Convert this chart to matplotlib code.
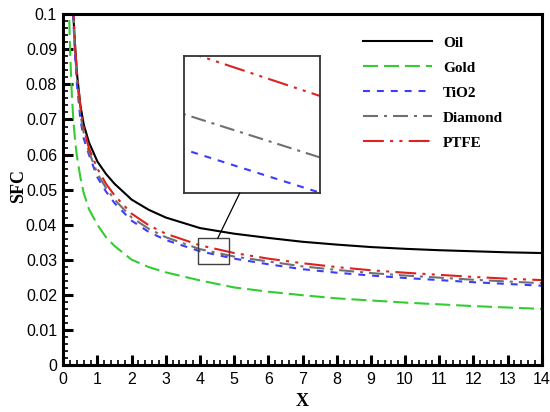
import matplotlib
matplotlib.use("Agg")
import matplotlib.pyplot as plt
from matplotlib.patches import Rectangle, ConnectionPatch
from matplotlib.ticker import MultipleLocator

plt.rcParams['lines.scale_dashes'] = False

# ---------------- data ----------------
x = [0.15, 0.2, 0.25, 0.3, 0.35, 0.4, 0.5, 0.6, 0.75, 1.0, 1.25, 1.5, 2.0, 2.5,
     3.0, 4.0, 5.0, 6.0, 7.0, 8.0, 9.0, 10.0, 11.0, 12.0, 13.0, 14.0]
oil = [0.160, 0.130, 0.110, 0.0985, 0.090, 0.083, 0.0740, 0.0685, 0.0635, 0.0580,
       0.0545, 0.0517, 0.0472, 0.0443, 0.0421, 0.0391, 0.0375, 0.0363, 0.0352,
       0.0344, 0.0337, 0.0332, 0.0328, 0.0325, 0.0322, 0.0320]
gold = [0.108, 0.089, 0.077, 0.069, 0.0635, 0.0595, 0.0535, 0.049, 0.0445, 0.0400,
        0.0365, 0.0340, 0.0301, 0.0280, 0.0265, 0.0242, 0.0222, 0.0210, 0.0200,
        0.0191, 0.0185, 0.0179, 0.0174, 0.0169, 0.0165, 0.0161]
tio2 = [0.170, 0.138, 0.112, 0.097, 0.087, 0.080, 0.070, 0.0645, 0.060, 0.0535,
        0.0495, 0.0462, 0.0412, 0.0380, 0.0357, 0.0325, 0.0304, 0.0288, 0.0274,
        0.0264, 0.0256, 0.0249, 0.0243, 0.0237, 0.0232, 0.0227]
diamond = [0.172, 0.140, 0.114, 0.0985, 0.0885, 0.0815, 0.0715, 0.066, 0.0608,
           0.0546, 0.0505, 0.0472, 0.0421, 0.0389, 0.0365, 0.0331, 0.0310, 0.0296,
           0.0282, 0.0272, 0.0263, 0.0256, 0.0250, 0.0244, 0.0239, 0.0234]
ptfe = [0.175, 0.142, 0.116, 0.100, 0.090, 0.0835, 0.0735, 0.0675, 0.0618, 0.0560,
        0.0517, 0.0484, 0.0432, 0.0399, 0.0375, 0.0342, 0.0320, 0.0304, 0.0291,
        0.0280, 0.0271, 0.0264, 0.0258, 0.0252, 0.0247, 0.0243]

series_names = ["Oil", "Gold", "TiO2", "Diamond", "PTFE"]
series_values = [oil, gold, tio2, diamond, ptfe]

x_ticks = list(range(0, 15))
x_tick_labels = [str(v) for v in x_ticks]
y_ticks = [0, 0.01, 0.02, 0.03, 0.04, 0.05, 0.06, 0.07, 0.08, 0.09, 0.1]
y_tick_labels = ["0", "0.01", "0.02", "0.03", "0.04", "0.05", "0.06", "0.07",
                 "0.08", "0.09", "0.1"]

# ---------------- styles ----------------
styles = [
    dict(color="black", linestyle="-"),
    dict(color="#33cc33", linestyle=(0, (10.8, 4.3))),
    dict(color="#3c3cff", linestyle=(0, (5.0, 5.0))),
    dict(color="#707070", linestyle=(0, (10.8, 4.3, 2.2, 4.3))),
    dict(color="#dd2222", linestyle=(0, (15.0, 4.5, 2.2, 4.5, 2.2, 4.5))),
]
LW = 1.5

fig = plt.figure(figsize=(5.5, 4.12), dpi=100)
ax = fig.add_axes([0.1151, 0.1129, 0.8698, 0.853])

for name, vals, st in zip(series_names, series_values, styles):
    ax.plot(x, vals, lw=LW, label=name, **st)

ax.set_xlim(0, 14)
ax.set_ylim(0, 0.1)
ax.set_xticks(x_ticks)
ax.set_xticklabels(x_tick_labels)
ax.set_yticks(y_ticks)
ax.set_yticklabels(y_tick_labels)
ax.xaxis.set_minor_locator(MultipleLocator(0.2))
ax.yaxis.set_minor_locator(MultipleLocator(0.002))
ax.tick_params(which="major", direction="in", length=7, width=2.2,
               top=False, right=False, labelsize=11.5, pad=4.5)
ax.tick_params(which="minor", direction="in", length=3.8, width=1.2,
               top=False, right=False)
for lab in ax.get_xticklabels() + ax.get_yticklabels():
    lab.set_fontfamily("Liberation Sans")
for s in ax.spines.values():
    s.set_linewidth(2.2)

fig.text(19 / 550, 1 - 186 / 412, "SFC", rotation=90, ha="center", va="center",
         fontsize=13, fontweight="bold", family="Liberation Serif")
fig.text(302 / 550, 1 - 402 / 412, "X", ha="center", va="center",
         fontsize=13, fontweight="bold", family="Liberation Serif")

leg = ax.legend(loc="upper left", bbox_to_anchor=(363 / 550, 1 - 36 / 412),
                bbox_transform=fig.transFigure, frameon=False, borderpad=0,
                borderaxespad=0, handlelength=4.5, handletextpad=0.72,
                labelspacing=0.74,
                prop=dict(family="Liberation Serif", weight="bold", size=11))

# zoom box on main axes
box_x0, box_x1, box_y0, box_y1 = 3.95, 4.85, 0.0289, 0.0362
ax.add_patch(Rectangle((box_x0, box_y0), box_x1 - box_x0, box_y1 - box_y0,
                       fill=False, ec="#404040", lw=1.0, zorder=5))

# inset
axin = fig.add_axes([184 / 550, 1 - 193 / 412, 136 / 550, 137 / 412])
for name, vals, st in zip(series_names, series_values, styles):
    axin.plot(x, vals, lw=LW, **st)
axin.set_xlim(4.2, 4.55)
axin.set_ylim(0.03134, 0.03367)
axin.set_xticks([])
axin.set_yticks([])
for s in axin.spines.values():
    s.set_linewidth(1.3)
    s.set_edgecolor("#333333")

con = ConnectionPatch(xyA=(4.52, box_y1), coordsA=ax.transData,
                      xyB=(0.41, 0.0), coordsB=axin.transAxes,
                      color="black", lw=0.9)
fig.add_artist(con)

fig.savefig("out.png", dpi=100)
